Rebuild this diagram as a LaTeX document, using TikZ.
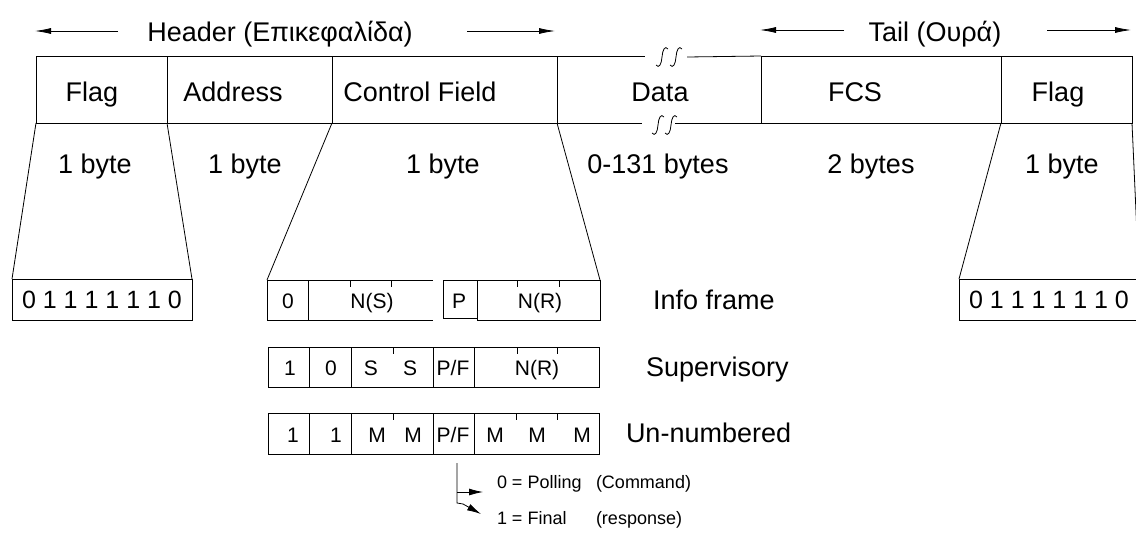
\documentclass[tikz,border=0pt]{standalone}
\usepackage{fontspec}
\setmainfont{Liberation Sans}
\usetikzlibrary{arrows.meta}

\begin{document}
\begin{tikzpicture}[x=1pt,y=-1pt,
  every node/.style={inner sep=0pt,outer sep=0pt},
  line width=0.8pt,
  cell/.style={draw,anchor=north west},
  field/.style={cell,minimum height=67pt},
  ctl/.style={cell,minimum height=40pt},
  big/.style={font=\fontsize{27}{31}\selectfont,anchor=base},
  bits/.style={font=\fontsize{25}{30}\selectfont},
  small/.style={font=\fontsize{21}{24}\selectfont,anchor=base},
  note/.style={font=\fontsize{18}{21}\selectfont,anchor=base west},
  harrow/.style={-{Latex[length=16pt,width=6pt]}},
  parrow/.style={-{Latex[length=14pt,width=7pt]}},
  brk/.pic={\draw (-6,8) .. controls (-3,12) and (-0.5,7) .. (0,0)
                 .. controls (0.5,-7) and (3,-12) .. (6,-8);}
]
\useasboundingbox (0,0) rectangle (1136,536);
\clip (0,0) rectangle (1136,536);

% ---- header / tail spans
\node[big] (hdr) at (280,41) {Header (Επικεφαλίδα)};
\node[big] (tail) at (935,41) {Tail (Ουρά)};
\coordinate (hA1) at (118,31); \coordinate (hA2) at (35,31);
\coordinate (hB1) at (467,31); \coordinate (hB2) at (555,31);
\coordinate (tA1) at (844,30); \coordinate (tA2) at (760,30);
\coordinate (tB1) at (1047,30); \coordinate (tB2) at (1131,30);
\draw[harrow] (hA1) -- (hA2);
\draw[harrow] (hB1) -- (hB2);
\draw[harrow] (tA1) -- (tA2);
\draw[harrow] (tB1) -- (tB2);

% ---- frame fields
\node[field,minimum width=131pt] (flagA) at (36,56) {};
\node[field,minimum width=165pt] (addr)  at (167,56) {};
\node[field,minimum width=225pt] (ctrl)  at (332,56) {};
\node[anchor=north west,minimum width=204pt,minimum height=67pt] (data) at (557,56) {};
\node[field,minimum width=240pt] (fcs)   at (761,56) {};
\node[field,minimum width=131pt] (flagB) at (1001,56) {};

% data field: top and bottom edges broken by the length marks
\draw (data.north west) -- ++(88,0);
\pic at (662,57) {brk};
\pic at (676,57) {brk};
\draw (687,57) -- (data.north east);
\draw (data.south west) -- ++(85,0);
\pic at (658,125) {brk};
\pic at (671,125) {brk};
\draw (675,123) -- (data.south east);

\node[big] (tFlagA) at (92,101) {Flag};
\node[big] (tAddr)  at (233,101) {Address};
\node[big] (tCtrl)  at (420,101) {Control Field};
\node[big] (tData)  at (660,101) {Data};
\node[big] (tFcs)   at (855,101) {FCS};
\node[big] (tFlagB) at (1058,101) {Flag};

% ---- field sizes
\node[big] (sz1) at (95,173) {1 byte};
\node[big] (sz2) at (245,173) {1 byte};
\node[big] (sz3) at (443,173) {1 byte};
\node[big] (sz4) at (658,173) {0-131 bytes};
\node[big] (sz5) at (871,173) {2 bytes};
\node[big] (sz6) at (1062,173) {1 byte};

% ---- flag bit patterns
\node[cell,minimum width=180pt,minimum height=41pt,bits] (bitsA) at (12,279) {0 1 1 1 1 1 1 0};
\node[cell,minimum width=180pt,minimum height=41pt,bits] (bitsB) at (959,279) {0 1 1 1 1 1 1 0};
\draw (flagA.south west) -- (bitsA.north west);
\draw (flagA.south east) -- (bitsA.north east);
\draw (flagB.south west) -- (bitsB.north west);
\draw (flagB.south east) -- (bitsB.north east);

% ---- information frame control byte
\node[ctl,minimum width=41pt] (i0) at (267,280) {};
\node[anchor=north west,minimum width=125pt,minimum height=40pt] (iNS) at (308,280) {};
\draw (iNS.north west) -- (iNS.north east);
\draw (iNS.south west) -- (iNS.south east);
\node[cell,minimum width=34pt,minimum height=38pt] (iP) at (443,280) {};
\node[ctl,minimum width=123pt] (iNR) at (477,280) {};
\draw ([xshift=42pt]iNS.north west) -- ++(0,7);
\draw ([xshift=83pt]iNS.north west) -- ++(0,7);
\draw ([xshift=40pt]iNR.north west) -- ++(0,7);
\draw ([xshift=82pt]iNR.north west) -- ++(0,7);
\draw (ctrl.south west) -- (i0.north west);
\draw (ctrl.south east) -- (iNR.north east);
\node[small] at (288,308) {0};
\node[small] at (372,308) {N(S)};
\node[small] at (459,308) {P};
\node[small] at (540,308) {N(R)};
\node[big,anchor=base west] (lInfo) at (653,309) {Info frame};

% ---- supervisory frame control byte
\node[ctl,minimum width=41pt] (s1) at (268,347) {};
\node[ctl,minimum width=42pt] (s2) at (309,347) {};
\node[ctl,minimum width=82pt] (s3) at (351,347) {};
\node[ctl,minimum width=41pt] (s4) at (433,347) {};
\node[ctl,minimum width=125pt] (s5) at (474,347) {};
\draw ([xshift=42pt]s3.north west) -- ++(0,7);
\draw ([xshift=43pt]s5.north west) -- ++(0,7);
\draw ([xshift=83pt]s5.north west) -- ++(0,7);
\node[small] at (290,375) {1};
\node[small] at (331,375) {0};
\node[small] at (371,375) {S};
\node[small] at (410,375) {S};
\node[small] at (453,375) {P/F};
\node[small] at (537,375) {N(R)};
\node[big,anchor=base west] (lSup) at (646,376) {Supervisory};

% ---- unnumbered frame control byte
\node[ctl,minimum width=41pt,minimum height=41pt] (u1) at (268,413) {};
\node[ctl,minimum width=42pt,minimum height=41pt] (u2) at (309,413) {};
\node[ctl,minimum width=82pt,minimum height=41pt] (u3) at (351,413) {};
\node[ctl,minimum width=41pt,minimum height=41pt] (u4) at (433,413) {};
\node[ctl,minimum width=125pt,minimum height=41pt] (u5) at (474,413) {};
\draw ([xshift=42pt]u3.north west) -- ++(0,7);
\draw ([xshift=42pt]u5.north west) -- ++(0,7);
\draw ([xshift=83pt]u5.north west) -- ++(0,7);
\node[small] at (293,442) {1};
\node[small] at (336,442) {1};
\node[small] at (377,442) {M};
\node[small] at (413,442) {M};
\node[small] at (453,442) {P/F};
\node[small] at (495,442) {M};
\node[small] at (537,442) {M};
\node[small] at (582,442) {M};
\node[big,anchor=base west] (lUn) at (626,442) {Un-numbered};

% ---- poll / final bit meaning
\node[note] (poll)  at (497,488) {0 = Polling};
\node[note] (final) at (497,524) {1 = Final};
\node[note] (cmd)   at (596,488) {(Command)};
\node[note] (resp)  at (596,524) {(response)};
\coordinate (pf0) at (457,463);
\coordinate (pf1) at (457,492);
\coordinate (pf2) at (457,503);
\coordinate (pf3) at (463,504);
\coordinate (pfA) at (483,492);
\coordinate (pfB) at (481,514);
\draw (pf0) -- (pf2) -- (pf3);
\draw[parrow] (pf1) -- (pfA);
\draw[parrow] (pf3) -- (pfB);
\end{tikzpicture}
\end{document}
